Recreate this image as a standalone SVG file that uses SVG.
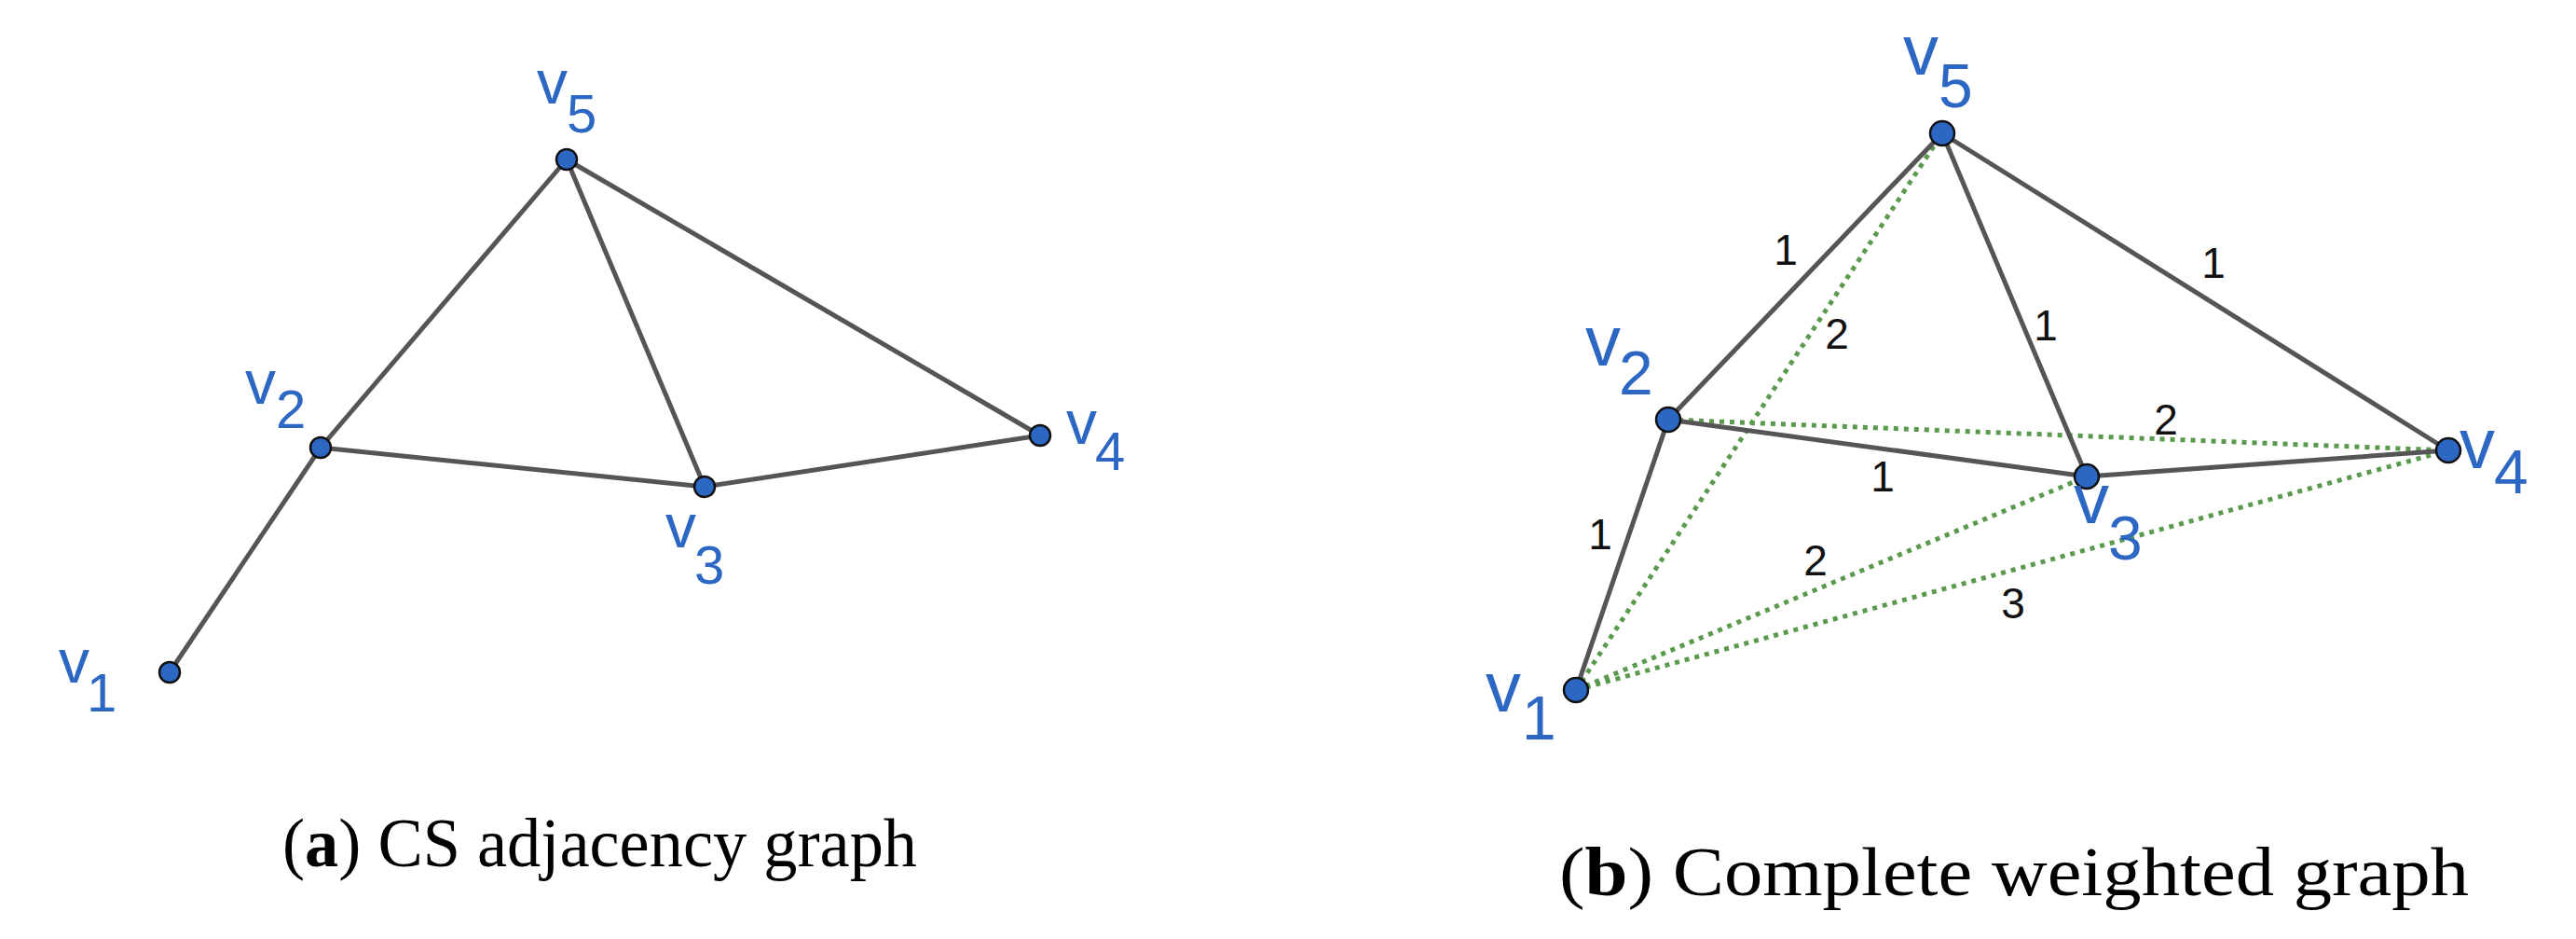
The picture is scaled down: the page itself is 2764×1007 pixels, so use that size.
<svg xmlns="http://www.w3.org/2000/svg" width="2764" height="1007" viewBox="0 0 2764 1007">
<style>
.e{stroke:#555;stroke-width:5;fill:none}
.g{stroke:#5b9a4e;stroke-width:5;stroke-dasharray:5 6;fill:none}
.n{fill:#2d67c4;stroke:#111;stroke-width:2.5}
.lv{font-family:"Liberation Sans",Arial,sans-serif;fill:#2d67c4;font-size:66px}
.ls{font-family:"Liberation Sans",Arial,sans-serif;fill:#2d67c4;font-size:58px}
.rv{font-family:"Liberation Sans",Arial,sans-serif;fill:#2d67c4;font-size:76px}
.rs{font-family:"Liberation Sans",Arial,sans-serif;fill:#2d67c4;font-size:66px}
.w{font-family:"Liberation Sans",Arial,sans-serif;fill:#111;font-size:46px;text-anchor:middle}
.cap{font-family:"Liberation Serif","Times New Roman",serif;fill:#000;font-size:74px}
</style>
<rect width="2764" height="1007" fill="#fff"/>
<g id="connectors">
<line class="e" x1="182" y1="721" x2="344" y2="480"/>
<line class="e" x1="344" y1="480" x2="608" y2="171"/>
<line class="e" x1="344" y1="480" x2="756" y2="522"/>
<line class="e" x1="608" y1="171" x2="756" y2="522"/>
<line class="e" x1="608" y1="171" x2="1116" y2="467"/>
<line class="e" x1="756" y1="522" x2="1116" y2="467"/>
<line class="g" x1="1691" y1="740" x2="2084" y2="143"/>
<line class="g" x1="1790" y1="450" x2="2627" y2="483"/>
<line class="g" x1="1691" y1="740" x2="2239" y2="511"/>
<line class="g" x1="1691" y1="740" x2="2627" y2="483"/>
<line class="e" x1="1691" y1="740" x2="1790" y2="450"/>
<line class="e" x1="1790" y1="450" x2="2084" y2="143"/>
<line class="e" x1="1790" y1="450" x2="2239" y2="511"/>
<line class="e" x1="2084" y1="143" x2="2239" y2="511"/>
<line class="e" x1="2084" y1="143" x2="2627" y2="483"/>
<line class="e" x1="2239" y1="511" x2="2627" y2="483"/>
<text class="w" x="1916" y="284">1</text>
<text class="w" x="1971" y="374">2</text>
<text class="w" x="2195" y="365">1</text>
<text class="w" x="2375" y="298">1</text>
<text class="w" x="2324" y="466">2</text>
<text class="w" x="2020" y="527">1</text>
<text class="w" x="1717" y="589">1</text>
<text class="w" x="1948" y="617">2</text>
<text class="w" x="2160" y="663">3</text>
</g>
<g id="a-v1"><circle class="n" cx="182" cy="721" r="11"/><text class="lv" x="63" y="732">v</text><text class="ls" x="93" y="763">1</text></g>
<g id="a-v2"><circle class="n" cx="344" cy="480" r="11"/><text class="lv" x="263" y="433">v</text><text class="ls" x="296" y="459">2</text></g>
<g id="a-v3"><circle class="n" cx="756" cy="522" r="11"/><text class="lv" x="714" y="587">v</text><text class="ls" x="745" y="626">3</text></g>
<g id="a-v4"><circle class="n" cx="1116" cy="467" r="11"/><text class="lv" x="1144" y="476">v</text><text class="ls" x="1175" y="504">4</text></g>
<g id="a-v5"><circle class="n" cx="608" cy="171" r="11"/><text class="lv" x="576" y="111">v</text><text class="ls" x="608" y="142">5</text></g>
<g id="b-v1"><circle class="n" cx="1691" cy="740" r="13"/><text class="rv" x="1594" y="763">v</text><text class="rs" x="1633" y="793">1</text></g>
<g id="b-v2"><circle class="n" cx="1790" cy="450" r="13"/><text class="rv" x="1701" y="392">v</text><text class="rs" x="1737" y="423">2</text></g>
<g id="b-v3"><circle class="n" cx="2239" cy="511" r="13"/><text class="rv" x="2225" y="561">v</text><text class="rs" x="2262" y="600">3</text></g>
<g id="b-v4"><circle class="n" cx="2627" cy="483" r="13"/><text class="rv" x="2639" y="502">v</text><text class="rs" x="2676" y="529">4</text></g>
<g id="b-v5"><circle class="n" cx="2084" cy="143" r="13"/><text class="rv" x="2042" y="80">v</text><text class="rs" x="2080" y="115">5</text></g>
<text class="cap" x="303" y="929" textLength="681" lengthAdjust="spacingAndGlyphs">(<tspan font-weight="bold">a</tspan>) CS adjacency graph</text>
<text class="cap" x="1673" y="960" textLength="976" lengthAdjust="spacingAndGlyphs">(<tspan font-weight="bold">b</tspan>) Complete weighted graph</text>
</svg>
